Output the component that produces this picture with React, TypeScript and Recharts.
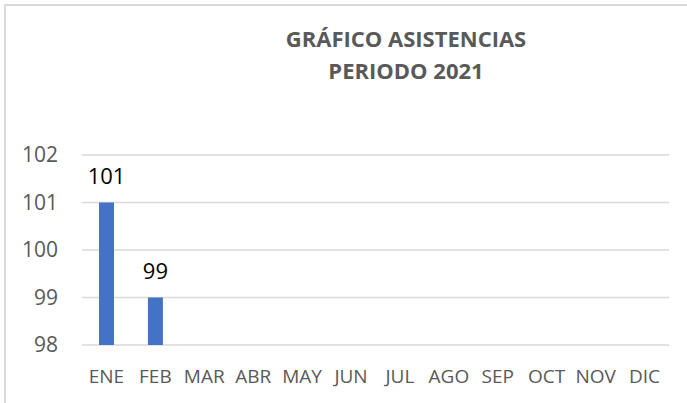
import React from 'react';
import { BarChart, Bar, XAxis, YAxis, CartesianGrid, LabelList } from 'recharts';

// ── Datos de asistencias ─────────────────────────────
const MONTHS = ['ENE', 'FEB', 'MAR', 'ABR', 'MAY', 'JUN', 'JUL', 'AGO', 'SEP', 'OCT', 'NOV', 'DIC'];
const ASISTENCIAS: (number | null)[] = [101, 99, null, null, null, null, null, null, null, null, null, null];
const Y_TICKS = [98, 99, 100, 101, 102];

const FONT = '"Open Sans", "Noto Sans", sans-serif';
const GREY = '#595959';

const chartData = MONTHS.map((m, i) => ({ name: m, value: ASISTENCIAS[i] }));

export default function App() {
  return (
    <div style={{ position: 'absolute', left: 0, top: 0, width: 687, height: 403, overflow: 'hidden', background: '#fff', fontFamily: FONT }}>
      <div style={{ position: 'absolute', left: 4, top: 4, width: 720, height: 440, border: '2px solid #d9d9d9', boxSizing: 'border-box' }} />
      <div style={{ position: 'absolute', left: 0, width: 812, top: 22, textAlign: 'center', color: GREY, fontWeight: 700, fontSize: 22, lineHeight: '32px' }}>
        GRÁFICO ASISTENCIAS<br />PERIODO 2021
      </div>
      <div style={{ position: 'absolute', left: 0, top: 0 }}>
        <BarChart width={687} height={403} data={chartData} margin={{ top: 155, right: 18, left: 0, bottom: 0 }}>
          <CartesianGrid vertical={false} stroke="#d9d9d9" strokeWidth={1.5} />
          <XAxis
            dataKey="name"
            height={58}
            axisLine={false}
            tickLine={false}
            interval={0}
            tickMargin={19}
            tick={{ fill: GREY, fontSize: 19, fontFamily: FONT }}
          />
          <YAxis
            width={82}
            domain={[98, 102]}
            ticks={Y_TICKS}
            axisLine={false}
            tickLine={false}
            tickMargin={18}
            tick={{ fill: GREY, fontSize: 21, fontFamily: FONT }}
          />
          <Bar dataKey="value" fill="#4472c4" barSize={15} isAnimationActive={false}>
            <LabelList dataKey="value" position="top" offset={19} fill="#000" fontSize={22} fontFamily={FONT} />
          </Bar>
        </BarChart>
      </div>
    </div>
  );
}
